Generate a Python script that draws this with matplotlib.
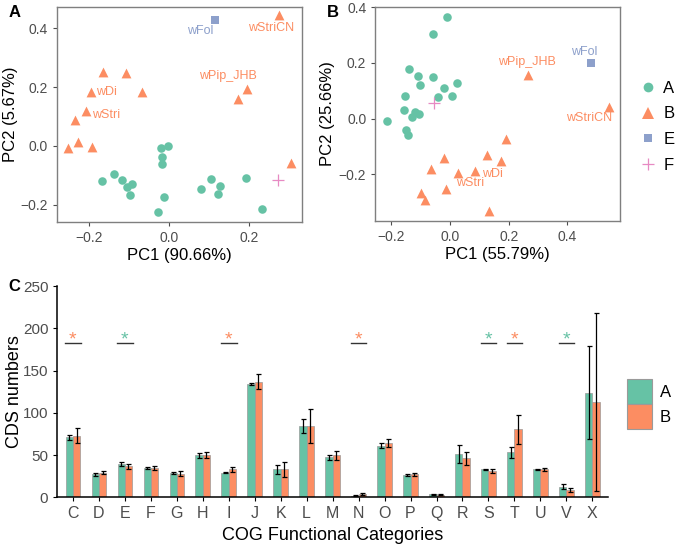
import matplotlib.pyplot as plt
import numpy as np
from matplotlib.lines import Line2D
from matplotlib.patches import Patch

plt.rcParams['font.family'] = ['Liberation Sans', 'DejaVu Sans']

GREEN = '#66C2A5'
ORANGE = '#FC8D62'
BLUE = '#8DA0CB'
PINK = '#E78AC3'
TICK_GREY = '#4D4D4D'

# --- panel A: PCA of CDS counts ---
a_grpA_x = [-0.020, -0.003, -0.018, -0.019, -0.168, -0.139, -0.118, -0.106, -0.092,
            -0.098, -0.012, -0.028, 0.079, 0.104, 0.127, 0.121, 0.192, 0.232]
a_grpA_y = [-0.006, 0.000, -0.038, -0.061, -0.118, -0.096, -0.116, -0.140, -0.128,
            -0.168, -0.174, -0.226, -0.146, -0.111, -0.136, -0.165, -0.109, -0.213]
a_grpB_x = [0.275, -0.167, -0.109, -0.195, -0.068, -0.208, -0.235, -0.229, -0.254,
            -0.193, 0.196, 0.172, 0.304]
a_grpB_y = [0.445, 0.253, 0.249, 0.184, 0.183, 0.120, 0.089, 0.015, -0.006,
            -0.002, 0.194, 0.161, -0.059]
a_grpE = (0.115, 0.428)
a_grpF = (0.273, -0.117)

# --- panel B ---
b_grpA_x = [-0.009, -0.058, -0.141, -0.111, -0.058, -0.102, 0.024, -0.020, -0.043,
            0.006, -0.154, -0.157, -0.119, -0.106, -0.131, -0.216, -0.150, -0.142]
b_grpA_y = [0.364, 0.303, 0.179, 0.152, 0.150, 0.119, 0.129, 0.109, 0.078,
            0.083, 0.083, 0.031, 0.023, 0.016, 0.007, -0.007, -0.042, -0.060]
b_grpB_x = [0.265, 0.543, 0.190, 0.127, 0.172, -0.020, -0.065, 0.028, 0.086,
            -0.015, -0.100, -0.086, 0.132]
b_grpB_y = [0.156, 0.043, -0.073, -0.130, -0.153, -0.141, -0.181, -0.195, -0.189,
            -0.254, -0.268, -0.292, -0.332]
b_grpE = (0.480, 0.198)
b_grpF = (-0.055, 0.057)

# labelled strains: (text, group, index in group, offset in points, ha)
a_labels = [('wStriCN', 'B', 0, (-6, -9.5), 'center'),
            ('wFol', 'E', 0, (-11, -7.7), 'center'),
            ('wPip_JHB', 'B', 11, (-7, 16.3), 'center'),
            ('wDi', 'B', 3, (3.5, 0), 'left'),
            ('wStri', 'B', 5, (4.5, -3.1), 'left')]
b_labels = [('wFol', 'E', 0, (-4.6, 8.6), 'center'),
            ('wPip_JHB', 'B', 0, (-0.7, 9.8), 'center'),
            ('wStriCN', 'B', 1, (-14.8, -8.1), 'center'),
            ('wDi', 'B', 8, (4.6, -1.9), 'left'),
            ('wStri', 'B', 7, (8.4, -7.4), 'center')]

# --- panel C: COG categories ---
cats = list('CDEFGHIJKLMNOPQRSTUVX')
mean_a = [71, 27, 39, 34.5, 28.5, 49.5, 29, 134, 33, 84, 47.5, 2, 61, 26, 3.5, 51.5, 33, 53, 33, 12.5, 124]
err_a = [3, 2, 2.5, 1, 1.5, 2.5, 0.8, 1.5, 5, 8.5, 3, 0.5, 3, 1, 0.5, 10.5, 1, 6.5, 1, 2.7, 55]
mean_b = [73, 29, 36.5, 34.5, 28, 50, 33, 137, 33, 84, 49.5, 3.5, 64.5, 27, 3, 46, 31.5, 80.5, 33, 9, 113]
err_b = [8.5, 2, 3, 2.5, 3, 3.5, 3, 9, 8.5, 20, 5.5, 1, 5, 2, 0.5, 7.5, 2.5, 17, 2, 2.5, 105]
sig_cats = ['C', 'E', 'I', 'N', 'S', 'T', 'V']
sig_group = ['B', 'A', 'B', 'B', 'A', 'B', 'A']
sig_level = 182

fig = plt.figure(figsize=(6.8, 5.49), dpi=100)


def fmt(t):
    return ('%.1f' % t).replace('-', '\u2212')


def pca_panel(ax, gA, gB, gE, gF, labels, xlabel, ylabel, xlim, ylim, xticks, yticks, ylab_x):
    ax.scatter(gA[0], gA[1], s=38, marker='o', color=GREEN, linewidths=0, zorder=3)
    ax.scatter(gB[0], gB[1], s=50, marker='^', color=ORANGE, linewidths=0, zorder=3)
    ax.scatter([gE[0]], [gE[1]], s=30, marker='s', color=BLUE, linewidths=0, zorder=3)
    ax.scatter([gF[0]], [gF[1]], s=70, marker='+', color=PINK, linewidths=0.9, zorder=3)
    pts = {'A': list(zip(*gA)), 'B': list(zip(*gB)), 'E': [gE], 'F': [gF]}
    cols = {'A': GREEN, 'B': ORANGE, 'E': BLUE, 'F': PINK}
    for txt, g, i, off, ha in labels:
        ax.annotate(txt, pts[g][i], xytext=off, textcoords='offset points',
                    ha=ha, va='center', color=cols[g], fontsize=9)
    ax.set_xlim(*xlim)
    ax.set_ylim(*ylim)
    ax.set_xticks(xticks)
    ax.set_yticks(yticks)
    ax.set_xticklabels([fmt(t) for t in xticks])
    ax.set_yticklabels([fmt(t) for t in yticks])
    ax.tick_params(colors=TICK_GREY, labelsize=10, length=3, width=0.8, labelcolor=TICK_GREY)
    for s in ax.spines.values():
        s.set_color('#7F7F7F')
        s.set_linewidth(1)
    ax.set_xlabel(xlabel, fontsize=12, labelpad=2)
    ax.set_ylabel(ylabel, fontsize=12, va='center')
    ax.yaxis.set_label_coords(ylab_x, 0.5)


ax_a = fig.add_axes([0.0838, 0.596, 0.360, 0.391])
pca_panel(ax_a, (a_grpA_x, a_grpA_y), (a_grpB_x, a_grpB_y), a_grpE, a_grpF, a_labels,
          'PC1 (90.66%)', 'PC2 (5.67%)', (-0.281, 0.332), (-0.258, 0.472),
          [-0.2, 0.0, 0.2], [-0.2, 0.0, 0.2, 0.4], -0.188)

ax_b = fig.add_axes([0.552, 0.598, 0.360, 0.390])
pca_panel(ax_b, (b_grpA_x, b_grpA_y), (b_grpB_x, b_grpB_y), b_grpE, b_grpF, b_labels,
          'PC1 (55.79%)', 'PC2 (25.66%)', (-0.255, 0.58), (-0.366, 0.402),
          [-0.2, 0.0, 0.2, 0.4], [-0.2, 0.0, 0.2, 0.4], -0.197)

handles = [Line2D([], [], ls='', marker='o', ms=7, color=GREEN, mew=0),
           Line2D([], [], ls='', marker='^', ms=8, color=ORANGE, mew=0),
           Line2D([], [], ls='', marker='s', ms=6, color=BLUE, mew=0),
           Line2D([], [], ls='', marker='+', ms=9, color=PINK, mew=0.9)]
fig.legend(handles, ['A', 'B', 'E', 'F'], loc='center left', bbox_to_anchor=(0.941, 0.769),
           frameon=False, fontsize=12, handlelength=1.0, handletextpad=0.4,
           labelspacing=0.65, borderaxespad=0, borderpad=0)

# panel C
ax_c = fig.add_axes([0.0843, 0.0942, 0.8097, 0.3848])
x = np.arange(len(cats))
w = 0.28
ax_c.bar(x - w / 2, mean_a, w, color=GREEN, edgecolor='#9A9A9A', linewidth=0.5, zorder=2)
ax_c.bar(x + w / 2, mean_b, w, color=ORANGE, edgecolor='#9A9A9A', linewidth=0.5, zorder=2)
ax_c.errorbar(x - w / 2, mean_a, yerr=err_a, fmt='none', ecolor='black', elinewidth=0.9,
              capsize=1.8, capthick=0.9, zorder=3)
ax_c.errorbar(x + w / 2, mean_b, yerr=err_b, fmt='none', ecolor='black', elinewidth=0.9,
              capsize=1.8, capthick=0.9, zorder=3)
for c, g in zip(sig_cats, sig_group):
    i = cats.index(c)
    ax_c.plot([i - 0.3, i + 0.3], [sig_level, sig_level], color='#333333', lw=1)
    ax_c.text(i, sig_level - 6, '*', ha='center', va='bottom', fontsize=14,
              color=ORANGE if g == 'B' else GREEN)
ax_c.set_xlim(-0.6, len(cats) - 0.4)
ax_c.set_ylim(0, 250)
ax_c.set_xticks(x)
ax_c.set_xticklabels(cats)
ax_c.set_yticks([0, 50, 100, 150, 200, 250])
ax_c.tick_params(colors='black', labelcolor=TICK_GREY, length=3, width=0.8)
ax_c.tick_params(axis='x', labelsize=11.5)
ax_c.tick_params(axis='y', labelsize=11)
for s in ['top', 'right']:
    ax_c.spines[s].set_visible(False)
for s in ['left', 'bottom']:
    ax_c.spines[s].set_linewidth(1.1)
ax_c.set_xlabel('COG Functional Categories', fontsize=13, labelpad=4)
ax_c.set_ylabel('CDS numbers', fontsize=13, va='center')
ax_c.yaxis.set_label_coords(-0.077, 0.5)

fig.legend([Patch(facecolor=GREEN, edgecolor='#9A9A9A', linewidth=0.8),
            Patch(facecolor=ORANGE, edgecolor='#9A9A9A', linewidth=0.8)], ['A', 'B'],
           loc='center left', bbox_to_anchor=(0.9216, 0.264), frameon=False, fontsize=12,
           handlelength=1.5, handleheight=1.9, handletextpad=0.5, labelspacing=0,
           borderaxespad=0, borderpad=0)

fig.text(0.012, 0.977, 'A', fontsize=12, fontweight='bold', va='center')
fig.text(0.480, 0.977, 'B', fontsize=12, fontweight='bold', va='center')
fig.text(0.012, 0.479, 'C', fontsize=12, fontweight='bold', va='center')

fig.savefig('out.png', dpi=100)
